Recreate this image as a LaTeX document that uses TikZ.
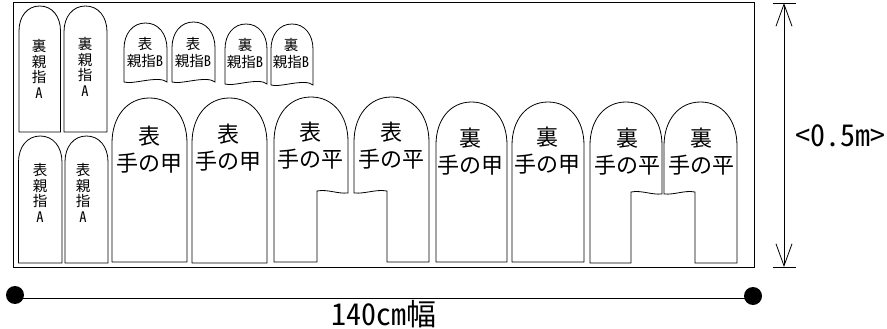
\documentclass[tikz,border=0pt]{standalone}
\usepackage{fontspec}
\usetikzlibrary{arrows.meta}
\setmainfont{Noto Sans CJK JP}
\newfontfamily\halfw[RawFeature=+hwid]{Noto Sans CJK JP}
\newcommand{\setarch}[3]{%
  \pgfmathsetmacro\xm{(#1+#2)/2}%
  \pgfmathsetmacro\hw{(#2-#1)/2}%
  \pgfmathsetmacro\ys{#3+1.2*\hw}%
  \pgfmathsetmacro\yc{#3+0.5*\hw}%
  \pgfmathsetmacro\xl{\xm-0.6*\hw}%
  \pgfmathsetmacro\xr{\xm+0.6*\hw}%
}
\newcommand{\tongue}[4]{\setarch{#1}{#2}{#3}%
  \draw[piece] (#1,#4)--(#1,\ys) .. controls (#1,\yc) and (\xl,#3) .. (\xm,#3) .. controls (\xr,#3) and (#2,\yc) .. (#2,\ys)--(#2,#4)--cycle;}
\newcommand{\tonguewave}[4]{\setarch{#1}{#2}{#3}%
  \pgfmathsetmacro\yw{#4-7}%
  \draw[piece] (#1,#4)--(#1,\ys) .. controls (#1,\yc) and (\xl,#3) .. (\xm,#3) .. controls (\xr,#3) and (#2,\yc) .. (#2,\ys)--(#2,#4) .. controls (\xr,\yw) and (\xl,#4+3) .. cycle;}
\newcommand{\palmleft}[6]{\setarch{#1}{#2}{#4}%
  \pgfmathsetmacro\xa{#3+0.65*(#2-#3)}\pgfmathsetmacro\xb{#3+0.35*(#2-#3)}%
  \draw[piece] (#1,#5)--(#1,\ys) .. controls (#1,\yc) and (\xl,#4) .. (\xm,#4) .. controls (\xr,#4) and (#2,\yc) .. (#2,\ys)--(#2,#6+2)
    .. controls (\xa,#6+3) and (\xb,#6-2) .. (#3,#6)--(#3,#5)--cycle;}
\newcommand{\palmright}[6]{\setarch{#1}{#2}{#4}%
  \pgfmathsetmacro\xa{#1+0.35*(#3-#1)}\pgfmathsetmacro\xb{#1+0.65*(#3-#1)}%
  \draw[piece] (#3,#5)--(#3,#6) .. controls (\xb,#6-2) and (\xa,#6+3) .. (#1,#6+2)--(#1,\ys) .. controls (#1,\yc) and (\xl,#4) .. (\xm,#4) .. controls (\xr,#4) and (#2,\yc) .. (#2,\ys)--(#2,#5)--cycle;}
\begin{document}
\begin{tikzpicture}[x=1pt,y=-1pt,
    piece/.style={line width=0.8pt},
    biglabel/.style={align=center,font=\fontsize{22}{27}\selectfont,inner sep=0pt},
    smalllabel/.style={align=center,font=\fontsize{14.5}{17}\selectfont,inner sep=0pt},
    stacklabel/.style={align=center,font=\fontsize{14.5}{15.5}\selectfont,inner sep=0pt},
    dimlabel/.style={font=\fontsize{30}{30}\selectfont,inner sep=0pt},
    dot/.style={circle,fill=black,minimum size=18pt,inner sep=0pt},
    >={Straight Barb[length=22pt,width=16pt]}]
    \useasboundingbox (0,0) rectangle (887,329);
    % cloth
    \draw[line width=1pt] (13.5,3) rectangle (754.5,267);
    % thumbs A
    \tongue{19}{60.5}{6}{132}
    \tongue{64}{107}{6}{132}
    \tongue{18.5}{62}{136}{263}
    \tongue{65}{108}{136}{263}
    \node[stacklabel] (uraA1) at (39,69) {裏\\親\\指\\{\halfw A}};
    \node[stacklabel] (uraA2) at (85,67) {裏\\親\\指\\{\halfw A}};
    \node[stacklabel] (omoA1) at (40,193) {表\\親\\指\\{\halfw A}};
    \node[stacklabel] (omoA2) at (83,193) {表\\親\\指\\{\halfw A}};
    % thumbs B
    \tonguewave{124}{167}{23}{82}
    \tonguewave{172}{215}{22}{82}
    \tonguewave{225}{267}{24}{84}
    \tonguewave{271}{313}{24}{85}
    \node[smalllabel] (omoB1) at (145,53) {表\\親指{\halfw B}};
    \node[smalllabel] (omoB2) at (193,53) {表\\親指{\halfw B}};
    \node[smalllabel] (uraB1) at (245,53) {裏\\親指{\halfw B}};
    \node[smalllabel] (uraB2) at (291,53) {裏\\親指{\halfw B}};
    % backs and palms
    \tongue{112}{187}{98}{262}
    \tongue{192}{267}{98}{263}
    \palmleft{274}{348}{317}{97}{262}{191}
    \palmright{354}{429}{387}{97}{262}{191}
    \tongue{436}{507}{102}{262}
    \tongue{512}{584}{102}{262}
    \palmleft{590}{662}{631}{102}{263}{192}
    \palmright{664}{737}{695}{102}{263}{192}
    \node[biglabel] (omoK1) at (149,150) {表\\手の甲};
    \node[biglabel] (omoK2) at (228,148) {表\\手の甲};
    \node[biglabel] (omoH1) at (310,146) {表\\手の平};
    \node[biglabel] (omoH2) at (391,146) {表\\手の平};
    \node[biglabel] (uraK1) at (470,152) {裏\\手の甲};
    \node[biglabel] (uraK2) at (547,151) {裏\\手の甲};
    \node[biglabel] (uraH1) at (627,152) {裏\\手の平};
    \node[biglabel] (uraH2) at (701,152) {裏\\手の平};
    % height
    \coordinate (hightop) at (784,3);
    \coordinate (hightbot) at (784,267);
    \draw[line width=0.8pt] (773,3)--(796,3);
    \draw[line width=0.8pt] (773,267)--(796,267);
    \draw[<->,line width=0.8pt] (hightop)--(hightbot);
    \node[dimlabel] (hightlabel) at (840,136) {\halfw <0.5m>};
    % width
    \node[dot] (widthl) at (15,295) {};
    \node[dot] (widthr) at (753,296) {};
    \draw[line width=1pt] (15,298)--(753,298);
    \node[dimlabel] (widthlabel) at (384,314) {{\halfw 140cm}幅};
\end{tikzpicture}
\end{document}
